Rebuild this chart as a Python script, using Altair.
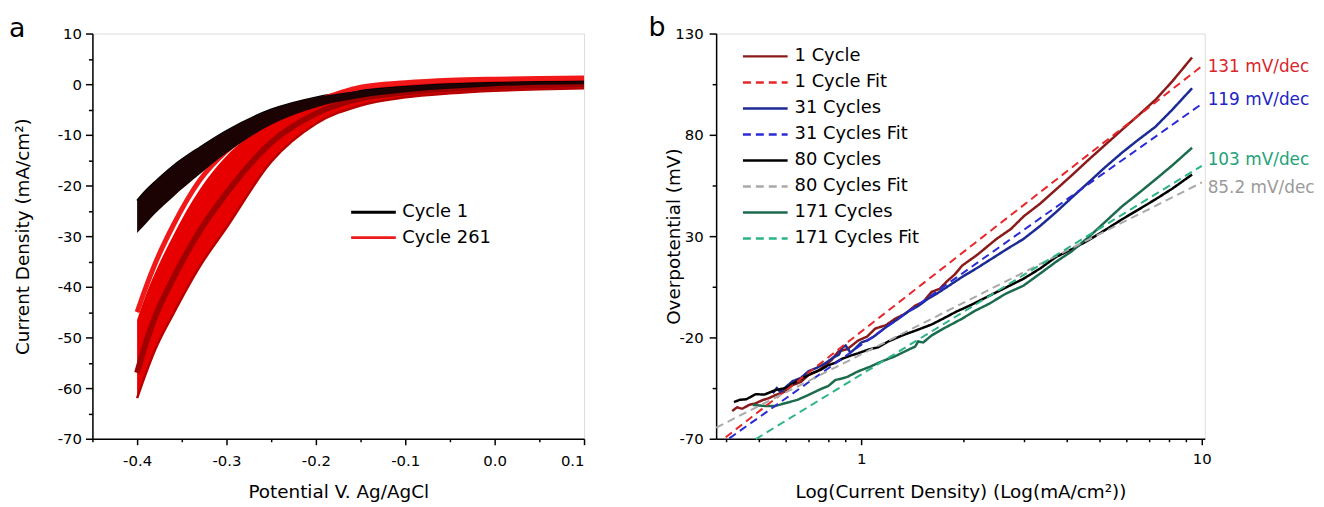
import altair as alt
import pandas as pd

FONT = "DejaVu Sans"

# ---------------- panel a : CV cycles ----------------
V_A = [0.1, 0.05, 0.0, -0.05, -0.1, -0.15, -0.2, -0.25, -0.3, -0.33, -0.36, -0.38, -0.39, -0.4]
BLACK_UP = [0.6, 0.5, 0.3, 0.0, -0.5, -1.3, -2.6, -5.0, -9.2, -12.5, -16.2, -19.3, -21.0, -23.0]
BLACK_LOW = [0.0, -0.1, -0.4, -0.9, -1.6, -2.7, -4.6, -8.0, -13.6, -17.8, -22.3, -25.6, -27.5, -29.4]
RED_LEFT = [1.2, 1.1, 1.0, 0.8, 0.3, -0.6, -3.4, -7.2, -13.2, -19.0, -28.0, -35.5, -40.0, -45.0]
RED_GAP = [1.2, 1.1, 1.0, 0.8, 0.3, -0.6, -3.4, -7.6, -14.2, -20.8, -30.0, -37.3, -41.5, -46.5]
RED_CORE = [0.0, -0.2, -0.5, -0.9, -1.6, -2.8, -5.8, -11.5, -21.5, -29.0, -38.5, -46.0, -51.0, -57.0]
RED_RIGHT = [-0.8, -1.0, -1.3, -1.8, -2.6, -4.2, -7.8, -15.3, -28.3, -36.0, -45.5, -52.5, -57.0, -62.0]
LEGEND_A = ["Cycle 1", "Cycle 261"]
LEGEND_A_COLORS = ["#000000", "#ec1c1c"]

# ---------------- panel b : Tafel plots ----------------
CYC1_J = [0.418, 0.432, 0.447, 0.469, 0.49, 0.514, 0.535, 0.561, 0.595, 0.629, 0.665, 0.70, 0.74, 0.785,
          0.82, 0.857, 0.91, 0.98, 1.04, 1.10, 1.18, 1.26, 1.35, 1.44, 1.52, 1.61, 1.70, 1.79, 1.88, 1.98,
          2.2, 2.49, 2.75, 3.0, 3.35, 3.73, 4.15, 4.65, 5.2, 5.83, 6.5, 7.3, 8.2, 9.36]
CYC1_ETA = [-56.3, -54.5, -55.2, -53.3, -52.5, -50.9, -50.0, -48.4, -46.8, -43.5, -42.0, -38.6, -36.9, -33.7,
            -31.0, -26.9, -25.8, -21.5, -19.6, -15.6, -14.0, -10.7, -8.2, -4.3, -2.5, 2.5, 4.0, 7.9, 11.0, 15.5,
            21.0, 28.5, 33.5, 39.8, 46.0, 53.0, 60.0, 67.7, 75.0, 82.5, 89.5, 97.2, 106.5, 118.2]

CYC31_J = [0.55, 0.565, 0.58, 0.60, 0.629, 0.665, 0.70, 0.74, 0.785, 0.83, 0.86, 0.88, 0.90, 0.93, 0.96,
           1.0, 1.04, 1.08, 1.14, 1.20, 1.28, 1.37, 1.47, 1.57, 1.68, 1.79, 1.98, 2.2, 2.45, 2.7, 2.99,
           3.35, 3.73, 4.15, 4.65, 5.2, 5.83, 6.5, 7.3, 8.2, 9.36]
CYC31_ETA = [-47.5, -45.0, -47.0, -44.5, -41.6, -40.0, -36.7, -35.0, -32.7, -29.8, -28.5, -25.0, -24.0, -27.5,
             -25.5, -22.5, -21.5, -20.0, -17.0, -14.1, -11.0, -7.3, -4.5, -0.9, 2.0, 5.0, 9.9, 14.5, 19.5,
             24.0, 28.5, 35.0, 41.8, 49.0, 56.5, 64.0, 71.2, 77.5, 83.9, 92.5, 103.0]

CYC80_J = [0.423, 0.44, 0.46, 0.49, 0.52, 0.56, 0.60, 0.655, 0.72, 0.76, 0.80, 0.84, 0.88, 0.93, 0.98,
           1.05, 1.12, 1.2, 1.32, 1.45, 1.61, 1.75, 1.9, 2.1, 2.38, 2.65, 2.99, 3.35, 3.73, 4.15, 4.65,
           5.2, 5.83, 6.5, 7.3, 8.2, 9.36]
CYC80_ETA = [-51.9, -50.8, -50.5, -48.0, -48.2, -46.0, -45.0, -41.1, -37.5, -36.0, -33.7, -32.5, -30.5,
             -29.0, -27.8, -26.0, -24.9, -22.0, -19.0, -16.5, -13.6, -10.5, -7.3, -4.0, 0.6, 4.5, 8.9,
             14.0, 19.7, 23.5, 28.0, 33.0, 38.3, 43.0, 48.1, 53.5, 60.4]

CYC171_J = [0.48, 0.52, 0.56, 0.60, 0.65, 0.70, 0.76, 0.80, 0.84, 0.88, 0.91, 0.98, 1.06, 1.15, 1.25,
            1.34, 1.44, 1.47, 1.52, 1.61, 1.75, 1.98, 2.15, 2.38, 2.65, 2.99, 3.35, 3.73, 4.15, 4.65,
            5.2, 5.83, 6.5, 7.3, 8.2, 9.36]
CYC171_ETA = [-53.3, -53.8, -53.8, -52.4, -50.8, -48.4, -45.5, -44.0, -41.0, -40.2, -39.5, -36.7, -34.5,
              -31.8, -29.5, -27.0, -24.5, -22.0, -22.5, -19.0, -15.5, -10.7, -7.0, -3.3, 1.5, 5.5, 11.5,
              17.3, 22.5, 29.5, 37.0, 44.7, 51.0, 57.9, 65.0, 73.6]

FIT1_J, FIT1_ETA = [0.40, 10.0], [-69.3, 113.9]
FIT31_J, FIT31_ETA = [0.41, 10.0], [-69.8, 95.3]
FIT80_J, FIT80_ETA = [0.375, 10.0], [-64.5, 56.5]
FIT171_J, FIT171_ETA = [0.49, 10.0], [-70.2, 64.7]

SERIES_B = ["1 Cycle", "1 Cycle Fit", "31 Cycles", "31 Cycles Fit",
            "80 Cycles", "80 Cycles Fit", "171 Cycles", "171 Cycles Fit"]
COLORS_B = ["#8b1a1a", "#e8262a", "#1c2a94", "#2b2bd6", "#000000", "#a9a9a9", "#1d6b4d", "#2db38a"]
DASHES_B = [[1, 0], [8, 5], [1, 0], [8, 5], [1, 0], [8, 5], [1, 0], [8, 5]]

ANN_TEXT = ["131 mV/dec", "119 mV/dec", "103 mV/dec", "85.2 mV/dec"]
ANN_J = [10.4, 10.4, 10.4, 10.4]
ANN_ETA = [113.3, 97.1, 67.7, 53.5]
ANN_COLORS = ["#d9262b", "#2323c8", "#22a377", "#9a9a9a"]

# ---------------- build panel a ----------------
df_a = pd.DataFrame({"V": V_A, "black_up": BLACK_UP, "black_low": BLACK_LOW, "red_left": RED_LEFT,
                     "red_gap": RED_GAP, "red_core": RED_CORE, "red_right": RED_RIGHT})
leg_rows = []
for v, y in zip(V_A, BLACK_UP):
    leg_rows.append({"V": v, "I": y, "series": LEGEND_A[0]})
for v, y in zip(V_A, RED_LEFT):
    leg_rows.append({"V": v, "I": y, "series": LEGEND_A[1]})
df_a_leg = pd.DataFrame(leg_rows)

AX_COMMON = dict(domainColor="black", domainWidth=1.5, tickColor="black", tickWidth=1.5,
                 labelColor="black", titleColor="black", labelFont=FONT, titleFont=FONT,
                 labelFontSize=15, titleFontSize=18.5, titleFontWeight="normal", grid=False)

xa_axis = alt.Axis(
    values=[-0.45, -0.4, -0.35, -0.3, -0.25, -0.2, -0.15, -0.1, -0.05, 0.0, 0.05, 0.1],
    labelExpr="abs(datum.value*10 - round(datum.value*10)) < 0.001 ? (datum.value == 0 ? '0.0' : toString(round(datum.value*10)/10)) : ''",
    tickSize={"condition": {"test": "abs(datum.value*10 - round(datum.value*10)) < 0.001", "value": 6}, "value": 3},
    labelPadding=9, titleY=44, **AX_COMMON)
ya_axis = alt.Axis(
    values=list(range(-70, 11, 5)),
    labelExpr="datum.value % 10 == 0 ? toString(datum.value) : ''",
    tickSize={"condition": {"test": "datum.value % 10 == 0", "value": 7}, "value": 4},
    labelPadding=4, titleX=-60, **AX_COMMON)

xa_scale = alt.Scale(domain=[-0.45, 0.1], nice=False, zero=False)
ya_scale = alt.Scale(domain=[-70, 10], nice=False, zero=False)
XA_TITLE = "Potential V. Ag/AgCl"
YA_TITLE = "Current Density (mA/cm²)"


def xa():
    return alt.X("V:Q", scale=xa_scale, axis=xa_axis, title=XA_TITLE)


def ya(field):
    return alt.Y(field + ":Q", scale=ya_scale, axis=ya_axis, title=YA_TITLE)


base_a = alt.Chart(df_a)
red_area = base_a.mark_area(color="#e60000", interpolate="monotone").encode(
    x=xa(), y=ya("red_gap"), y2="red_right:Q")
red_core = base_a.mark_line(color="#a10000", strokeWidth=6, interpolate="monotone").encode(
    x=xa(), y=ya("red_core"))
red_edge = base_a.mark_line(color="#b80000", strokeWidth=2.5, interpolate="monotone").encode(
    x=xa(), y=ya("red_right"))
leg_a = alt.Chart(df_a_leg).mark_line(interpolate="monotone", strokeWidth=2).encode(
    x=xa(), y=ya("I"),
    color=alt.Color("series:N", title=None,
                    scale=alt.Scale(domain=LEGEND_A, range=LEGEND_A_COLORS),
                    legend=alt.Legend(orient="none", legendX=270, legendY=167, symbolType="M-2,0H2",
                                      symbolSize=506, symbolStrokeWidth=3, labelFont=FONT,
                                      labelFontSize=18, labelColor="black", labelOffset=16,
                                      rowPadding=3.5, padding=0)),
)
red_left = base_a.mark_line(color="#f01818", strokeWidth=5, interpolate="monotone").encode(
    x=xa(), y=ya("red_left"))
black_area = base_a.mark_area(color="#1c0303", interpolate="monotone").encode(
    x=xa(), y=ya("black_up"), y2="black_low:Q")
letter_a = alt.Chart(pd.DataFrame({"t": ["a"]})).mark_text(
    font=FONT, fontSize=27, align="left", baseline="alphabetic", color="black").encode(
    text="t:N", x=alt.value(-84), y=alt.value(3))

panel_a = alt.layer(red_area, red_core, red_edge, leg_a, red_left, black_area, letter_a).properties(
    width=495, height=408)

# ---------------- build panel b ----------------
rows = []
for name, js, es, kind in [
    ("1 Cycle", CYC1_J, CYC1_ETA, "data"), ("31 Cycles", CYC31_J, CYC31_ETA, "data"),
    ("80 Cycles", CYC80_J, CYC80_ETA, "data"), ("171 Cycles", CYC171_J, CYC171_ETA, "data"),
    ("1 Cycle Fit", FIT1_J, FIT1_ETA, "fit"), ("31 Cycles Fit", FIT31_J, FIT31_ETA, "fit"),
    ("80 Cycles Fit", FIT80_J, FIT80_ETA, "fit"), ("171 Cycles Fit", FIT171_J, FIT171_ETA, "fit"),
]:
    for i, (j, e) in enumerate(zip(js, es)):
        rows.append({"series": name, "J": j, "eta": e, "kind": kind, "idx": i})
df_b = pd.DataFrame(rows)
df_ann = pd.DataFrame({"label": ANN_TEXT, "J": ANN_J, "eta": ANN_ETA, "col": ANN_COLORS})

xb_axis = alt.Axis(
    values=[0.4, 0.5, 0.6, 0.7, 0.8, 0.9, 1, 2, 3, 4, 5, 6, 7, 8, 9, 10],
    labelExpr="datum.value == 1 ? '1' : (datum.value == 10 ? '10' : '')",
    tickSize={"condition": {"test": "datum.value == 1 || datum.value == 10", "value": 6}, "value": 3},
    labelPadding=7, titleY=44, **AX_COMMON)
yb_axis = alt.Axis(
    values=list(range(-70, 131, 25)),
    labelExpr="(datum.value + 70) % 50 == 0 ? toString(datum.value) : ''",
    tickSize={"condition": {"test": "(datum.value + 70) % 50 == 0", "value": 7}, "value": 4},
    labelPadding=6, titleX=-33, **AX_COMMON)
xb_scale = alt.Scale(type="log", domain=[0.375, 10.2], nice=False)
yb_scale = alt.Scale(domain=[-70, 130], nice=False, zero=False)
XB_TITLE = "Log(Current Density) (Log(mA/cm²))"
YB_TITLE = "Overpotential (mV)"

lines_b = alt.Chart(df_b).mark_line().encode(
    x=alt.X("J:Q", scale=xb_scale, axis=xb_axis, title=XB_TITLE),
    y=alt.Y("eta:Q", scale=yb_scale, axis=yb_axis, title=YB_TITLE),
    color=alt.Color("series:N", title=None, sort=SERIES_B,
                    scale=alt.Scale(domain=SERIES_B, range=COLORS_B),
                    legend=alt.Legend(orient="none", legendX=37, legendY=10.5, symbolType="M-2,0H2",
                                      symbolSize=506, symbolStrokeWidth=2.5, labelFont=FONT,
                                      labelFontSize=18, labelColor="black", labelOffset=17,
                                      rowPadding=4.2, padding=0)),
    strokeDash=alt.StrokeDash("series:N", title=None, sort=SERIES_B,
                              scale=alt.Scale(domain=SERIES_B, range=DASHES_B)),
    strokeWidth=alt.StrokeWidth("kind:N", scale=alt.Scale(domain=["data", "fit"], range=[2.5, 2.0]),
                                legend=None),
    order=alt.Order("idx:Q"),
)
ann_b = alt.Chart(df_ann).mark_text(font=FONT, fontSize=17, align="left", baseline="middle").encode(
    x=alt.X("J:Q", scale=xb_scale, axis=xb_axis, title=XB_TITLE),
    y=alt.Y("eta:Q", scale=yb_scale, axis=yb_axis, title=YB_TITLE),
    text="label:N",
    color=alt.Color("col:N", scale=None),
)
letter_b = alt.Chart(pd.DataFrame({"t": ["b"]})).mark_text(
    font=FONT, fontSize=27, align="left", baseline="alphabetic", color="black").encode(
    text="t:N", x=alt.value(-68), y=alt.value(2))

panel_b = alt.layer(lines_b, ann_b, letter_b).properties(width=492, height=408)

chart = alt.hconcat(panel_a, panel_b, spacing=51).resolve_scale(
    color="independent", strokeDash="independent", strokeWidth="independent"
).properties(
    padding={"left": 0, "top": 3, "right": 0, "bottom": 0}
).configure_view(stroke="transparent").configure(background="white")

chart.save("out.html", embed_options={"renderer": "svg", "actions": False})
